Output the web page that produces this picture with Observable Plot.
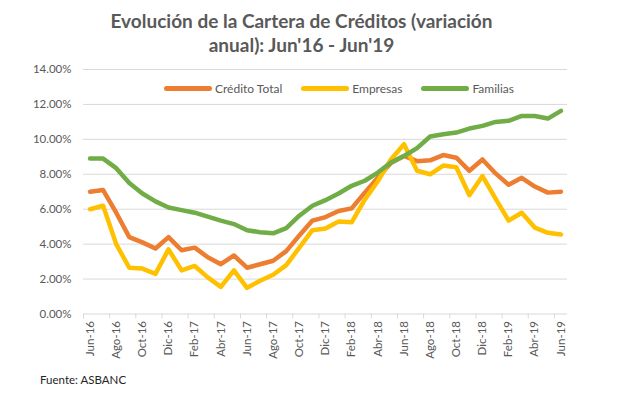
<!DOCTYPE html>
<html>
<head>
<meta charset="utf-8">
<script src="https://cdn.jsdelivr.net/npm/d3@7"></script>
<script src="https://cdn.jsdelivr.net/npm/@observablehq/plot@0.6"></script>
<style>
  html, body { margin: 0; padding: 0; background: #fff; }
  #wrap { position: relative; width: 620px; height: 393px; overflow: hidden; font-family: Lato, "Open Sans", sans-serif; }
  #title { position: absolute; left: 0; width: 603px; top: 9px; text-align: center; font-weight: bold; font-size: 19px; line-height: 23.5px; color: #595959; }
  #legend { position: absolute; left: 164px; top: 81px; display: flex; align-items: center; font-size: 12px; color: #595959; }
  #legend .item { display: flex; align-items: center; margin-right: 19px; }
  #legend .sw { width: 48px; height: 4.5px; border-radius: 3px; margin-right: 3px; }
  #caption { position: absolute; left: 40px; top: 373px; font-size: 11.5px; color: #262626; }
  #chart { position: absolute; left: 0; top: 0; }
</style>
</head>
<body>
<div id="wrap">
  <div id="chart"></div>
  <div id="title"></div>
  <div id="legend"></div>
  <div id="caption"></div>
</div>
<script>
const titleText = ["Evolución de la Cartera de Créditos (variación", "anual): Jun'16 - Jun'19"];
const captionText = "Fuente: ASBANC";

const months = ["Jun-16","Jul-16","Ago-16","Set-16","Oct-16","Nov-16","Dic-16","Ene-17","Feb-17","Mar-17","Abr-17","May-17",
  "Jun-17","Jul-17","Ago-17","Set-17","Oct-17","Nov-17","Dic-17","Ene-18","Feb-18","Mar-18","Abr-18","May-18",
  "Jun-18","Jul-18","Ago-18","Set-18","Oct-18","Nov-18","Dic-18","Ene-19","Feb-19","Mar-19","Abr-19","May-19","Jun-19"];

const seriesNames = ["Crédito Total", "Empresas", "Familias"];
const seriesColors = ["#ED7D31", "#FFC000", "#70AD47"];

const creditoTotal = [7.0, 7.1, 5.8, 4.4, 4.1, 3.75, 4.4, 3.65, 3.8, 3.25, 2.85, 3.35,
  2.65, 2.85, 3.05, 3.6, 4.5, 5.35, 5.55, 5.9, 6.05, 6.95, 7.8, 8.65,
  9.05, 8.75, 8.8, 9.1, 8.95, 8.2, 8.85, 8.05, 7.4, 7.8, 7.3, 6.95, 7.0];
const empresas = [6.0, 6.2, 4.0, 2.65, 2.6, 2.3, 3.7, 2.5, 2.75, 2.1, 1.55, 2.5,
  1.5, 1.9, 2.25, 2.8, 3.8, 4.8, 4.9, 5.3, 5.25, 6.55, 7.6, 8.85,
  9.72, 8.2, 8.0, 8.5, 8.4, 6.8, 7.9, 6.6, 5.35, 5.8, 4.95, 4.65, 4.55];
const familias = [8.9, 8.9, 8.35, 7.5, 6.9, 6.45, 6.1, 5.95, 5.8, 5.57, 5.35, 5.15,
  4.8, 4.68, 4.62, 4.92, 5.63, 6.2, 6.52, 6.9, 7.34, 7.63, 8.1, 8.67,
  9.05, 9.5, 10.16, 10.29, 10.39, 10.62, 10.77, 11.0, 11.06, 11.34, 11.34, 11.19, 11.63];

const yTicks = [0, 2, 4, 6, 8, 10, 12, 14];

const seriesValues = [creditoTotal, empresas, familias];
const rows = seriesValues.flatMap((vals, s) => vals.map((v, i) => ({serie: seriesNames[s], i, month: months[i], value: v})));

const labelIdx = d3.range(0, months.length, 2);
const boundaryTicks = d3.range(-0.5, months.length, 2);

const chart = Plot.plot({
  width: 620,
  height: 393,
  marginTop: 69,
  marginBottom: 79.5,
  marginLeft: 83,
  marginRight: 53,
  style: {fontFamily: "Lato, 'Open Sans', sans-serif", background: "transparent"},
  x: {domain: [-0.5, months.length - 0.5], axis: null},
  y: {domain: [0, 14], axis: null},
  color: {domain: seriesNames, range: seriesColors},
  marks: [
    Plot.gridY(yTicks, {stroke: "#d9d9d9", strokeOpacity: 1, strokeWidth: 1}),
    Plot.axisY(yTicks, {label: null, tickSize: 0, tickPadding: 12, tickFormat: d => d.toFixed(2) + "%", fontSize: 11.5, fill: "#595959"}),
    Plot.axisX(boundaryTicks, {label: null, tickSize: 5, stroke: "#d9d9d9", tickFormat: () => ""}),
    Plot.axisX(labelIdx, {label: null, tickSize: 0, tickPadding: 7, tickRotate: -90, tickFormat: i => months[i], fontSize: 11.5, fill: "#595959"}),
    Plot.line(rows, {x: "i", y: "value", z: "serie", stroke: "serie", strokeWidth: 4.5,
      strokeLinejoin: "round", strokeLinecap: "round"})
  ]
});
document.getElementById("chart").appendChild(chart);

document.getElementById("title").innerHTML = titleText.join("<br>");
document.getElementById("caption").textContent = captionText;
const legend = document.getElementById("legend");
seriesNames.forEach((name, k) => {
  const item = document.createElement("div");
  item.className = "item";
  const sw = document.createElement("div");
  sw.className = "sw";
  sw.style.background = seriesColors[k];
  const lab = document.createElement("span");
  lab.textContent = name;
  item.appendChild(sw);
  item.appendChild(lab);
  legend.appendChild(item);
});
</script>
</body>
</html>
